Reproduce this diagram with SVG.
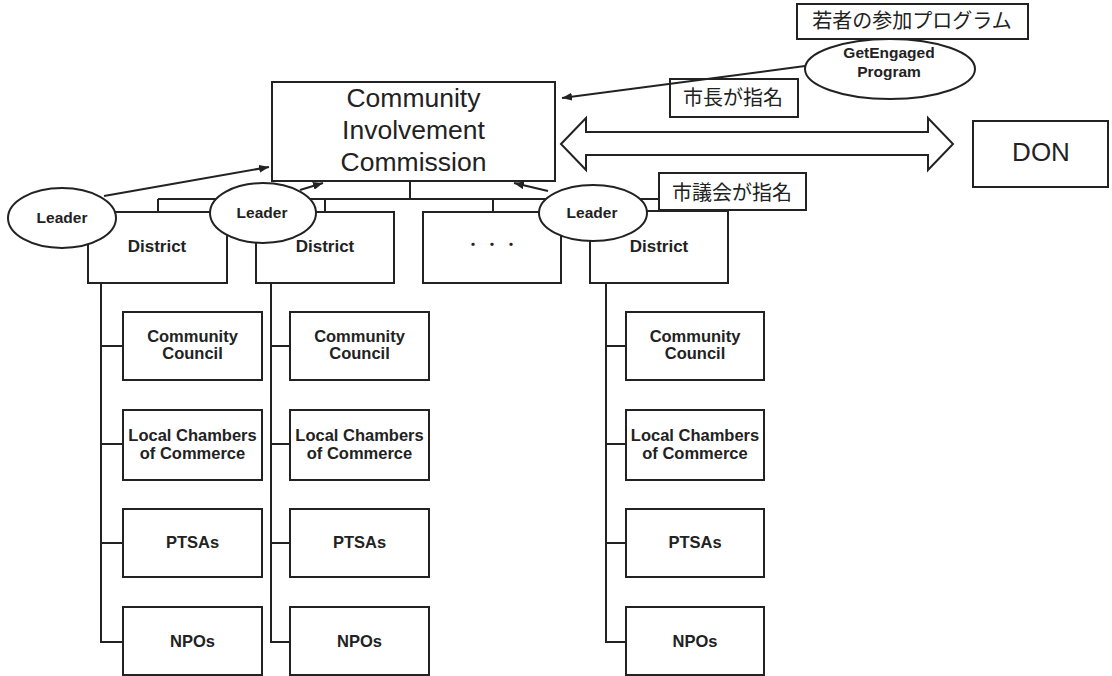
<svg xmlns="http://www.w3.org/2000/svg" width="1112" height="676" viewBox="0 0 1112 676">
<defs>
<style>
.box{fill:#fff;stroke:#222;stroke-width:2}
.ell{fill:#fff;stroke:#222;stroke-width:2}
.ln{fill:none;stroke:#222;stroke-width:2}
.t{font-family:"Liberation Sans",Arial,sans-serif;fill:#222;text-anchor:middle}
.b{font-weight:bold}
.jp{font-family:"Liberation Sans","Noto Sans CJK JP",sans-serif;fill:#222;text-anchor:middle;font-size:20px}
</style>
<marker id="ah" viewBox="0 0 10 8" refX="10" refY="4" markerWidth="10" markerHeight="8" markerUnits="userSpaceOnUse" orient="auto">
<path d="M0,0 L10,4 L0,8 Z" fill="#222"/>
</marker>
</defs>
<rect width="1112" height="676" fill="#fff"/>

<g id="connectors">
<!-- bus -->
<path class="ln" d="M410,181 V199 M158,199 H659 M158,199 V212 M325,199 V212 M493,199 V212 M659,199 V212"/>
<!-- column 1 -->
<path class="ln" d="M101,283 V642 H123 M101,346 H123 M101,444 H123 M101,543 H123"/>
<!-- column 2 -->
<path class="ln" d="M271,283 V642 H290 M271,346 H290 M271,444 H290 M271,543 H290"/>
<!-- column 3 -->
<path class="ln" d="M606,283 V642 H626 M606,346 H626 M606,444 H626 M606,543 H626"/>
</g>

<g id="cic">
<rect class="box" x="272" y="82" width="283" height="99"/>
<text class="t" x="413.5" y="107" font-size="26.5">Community</text>
<text class="t" x="413.5" y="139" font-size="26.5">Involvement</text>
<text class="t" x="413.5" y="171" font-size="26.5">Commission</text>
</g>

<g id="district1">
<rect class="box" x="88" y="212" width="139" height="71"/>
<text class="t b" x="157" y="252" font-size="17">District</text>
</g>
<g id="district2">
<rect class="box" x="256" y="212" width="138" height="71"/>
<text class="t b" x="325" y="252" font-size="17">District</text>
</g>
<g id="district-more">
<rect class="box" x="423" y="212" width="138" height="71"/>
<text x="492" y="250" font-size="15.5" font-family="'Noto Sans CJK JP',sans-serif" fill="#222" text-anchor="middle">・ ・ ・</text>
</g>
<g id="district3">
<rect class="box" x="590" y="211" width="138" height="72"/>
<text class="t b" x="659" y="252" font-size="17">District</text>
</g>

<g id="col1">
<g id="cc1"><rect class="box" x="123" y="312" width="139" height="68"/><text class="t b" x="192.5" y="342" font-size="16.5">Community</text><text class="t b" x="192.5" y="359" font-size="16.5">Council</text></g>
<g id="lcc1"><rect class="box" x="123" y="410" width="139" height="70"/><text class="t b" x="192.5" y="441" font-size="16.5">Local Chambers</text><text class="t b" x="192.5" y="459" font-size="16.5">of Commerce</text></g>
<g id="ptsa1"><rect class="box" x="123" y="509" width="139" height="68"/><text class="t b" x="192.5" y="548" font-size="16.5">PTSAs</text></g>
<g id="npo1"><rect class="box" x="123" y="607" width="139" height="68"/><text class="t b" x="192.5" y="647" font-size="16.5">NPOs</text></g>
</g>
<g id="col2">
<g id="cc2"><rect class="box" x="290" y="312" width="139" height="68"/><text class="t b" x="359.5" y="342" font-size="16.5">Community</text><text class="t b" x="359.5" y="359" font-size="16.5">Council</text></g>
<g id="lcc2"><rect class="box" x="290" y="410" width="139" height="70"/><text class="t b" x="359.5" y="441" font-size="16.5">Local Chambers</text><text class="t b" x="359.5" y="459" font-size="16.5">of Commerce</text></g>
<g id="ptsa2"><rect class="box" x="290" y="509" width="139" height="68"/><text class="t b" x="359.5" y="548" font-size="16.5">PTSAs</text></g>
<g id="npo2"><rect class="box" x="290" y="607" width="139" height="68"/><text class="t b" x="359.5" y="647" font-size="16.5">NPOs</text></g>
</g>
<g id="col3">
<g id="cc3"><rect class="box" x="626" y="312" width="138" height="68"/><text class="t b" x="695" y="342" font-size="16.5">Community</text><text class="t b" x="695" y="359" font-size="16.5">Council</text></g>
<g id="lcc3"><rect class="box" x="626" y="410" width="138" height="70"/><text class="t b" x="695" y="441" font-size="16.5">Local Chambers</text><text class="t b" x="695" y="459" font-size="16.5">of Commerce</text></g>
<g id="ptsa3"><rect class="box" x="626" y="509" width="138" height="68"/><text class="t b" x="695" y="548" font-size="16.5">PTSAs</text></g>
<g id="npo3"><rect class="box" x="626" y="607" width="138" height="68"/><text class="t b" x="695" y="647" font-size="16.5">NPOs</text></g>
</g>

<g id="leader1">
<ellipse class="ell" cx="62" cy="218" rx="54" ry="30"/>
<text class="t b" x="62" y="223" font-size="15.5">Leader</text>
</g>
<g id="leader2">
<ellipse class="ell" cx="263" cy="213" rx="53" ry="30"/>
<text class="t b" x="262" y="218" font-size="15.5">Leader</text>
</g>
<g id="leader3">
<ellipse class="ell" cx="593" cy="213" rx="54" ry="28"/>
<text class="t b" x="592" y="218" font-size="15.5">Leader</text>
</g>

<g id="council-label">
<rect class="box" x="659" y="173" width="147" height="37"/>
<text class="jp" x="732" y="200">市議会が指名</text>
</g>

<g id="youth-label">
<rect class="box" x="797" y="4" width="231" height="35"/>
<text class="jp" x="912" y="28">若者の参加プログラム</text>
</g>
<g id="getengaged">
<ellipse class="ell" cx="890" cy="69" rx="85" ry="30"/>
<text class="t b" x="889" y="58" font-size="15.5">GetEngaged</text>
<text class="t b" x="889" y="77" font-size="15.5">Program</text>
</g>
<g id="mayor-label">
<rect class="box" x="670" y="79" width="128" height="38"/>
<text class="jp" x="733" y="105">市長が指名</text>
</g>

<g id="don">
<rect class="box" x="973" y="121" width="135" height="66"/>
<text class="t" x="1041" y="161" font-size="26">DON</text>
</g>

<g id="arrows">
<polygon class="box" points="561,144 586,118 586,132 928,132 928,118 953,144 928,170 928,155 586,155 586,170"/>
<line class="ln" x1="104" y1="196" x2="269" y2="167" marker-end="url(#ah)"/>
<line class="ln" x1="300" y1="190" x2="323" y2="183" marker-end="url(#ah)"/>
<line class="ln" x1="548" y1="191" x2="514" y2="183" marker-end="url(#ah)"/>
<line class="ln" x1="805" y1="66" x2="562" y2="98" marker-end="url(#ah)"/>
</g>
</svg>
